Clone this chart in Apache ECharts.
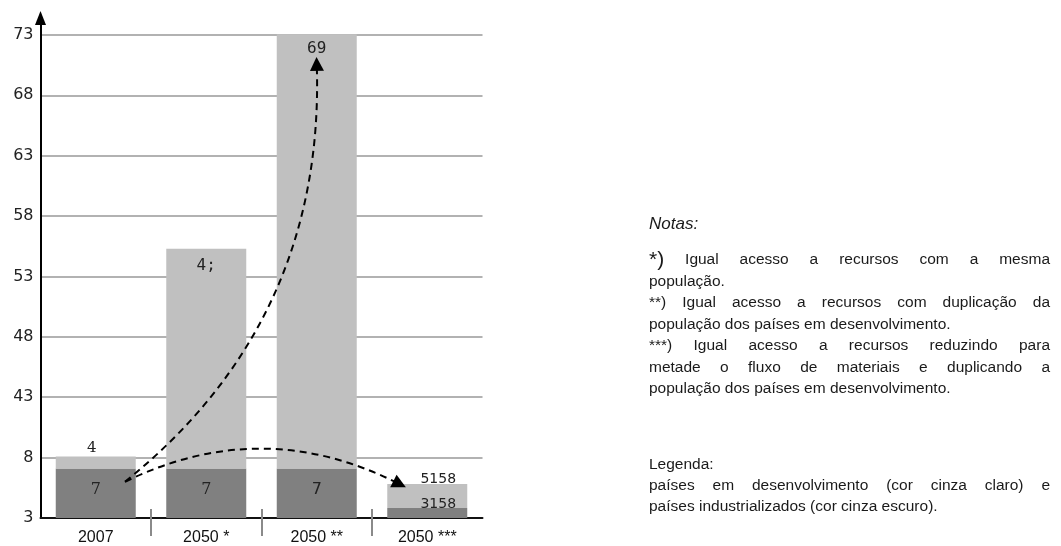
<!DOCTYPE html>
<html>
<head>
<meta charset="utf-8">
<script src="https://cdn.jsdelivr.net/npm/echarts@6/dist/echarts.min.js"></script>
<style>
html,body{margin:0;padding:0;background:#fff;}
#chart{width:1061px;height:546px;}
</style>
</head>
<body>
<div id="chart"></div>
<script>
// ---- data ----
const categories = ['2007', '2050 *', '2050 **', '2050 ***'];
const yTickLabels = ['3', '8', '43', '48', '53', '58', '63', '68', '73'];
const industrialized = [0.82, 0.82, 0.82, 0.165];   // dark grey
const developing = [0.2, 3.64, 7.19, 0.4];          // light grey (stacked on top)
const darkLabels = ['7', '7', '7', '3158'];
const lightLabels = ['4', '4;', '69', '5158'];
const arrowStart = [0.265, 0.6];
const arrowEnds = [[2.0, 7.52], [2.75, 0.56]];
const noteLines = [
  'Notas:',
  '*) Igual acesso a recursos com a mesma',
  'população.',
  '**) Igual acesso a recursos com duplicação da',
  'população dos países em desenvolvimento.',
  '***) Igual acesso a recursos reduzindo para',
  'metade o fluxo de materiais e duplicando a',
  'população dos países em desenvolvimento.',
  'Legenda:',
  'países em desenvolvimento (cor cinza claro) e',
  'países industrializados (cor cinza escuro).'
];

// ---- styles ----
const noteY = [224, 260, 282, 303, 325, 346, 368, 389, 465, 486, 507];
const noteJustify = [false, true, false, true, false, true, true, false, false, true, false];
const noteLeft = 649, noteRight = 1050;
const noteFont = 'Liberation Sans';
const noteSize = 15.5;

const darkLabelStyle = [
  {position: 'inside', offset: [0, -3], fontFamily: 'DejaVu Serif', fontSize: 16},
  {position: 'inside', offset: [0, -3], fontFamily: 'DejaVu Serif', fontSize: 16},
  {position: 'inside', offset: [0, -3], fontFamily: 'DejaVu Sans', fontSize: 16},
  {position: 'top', distance: 2, offset: [11, 5], fontFamily: 'DejaVu Sans', fontSize: 14}
];
const lightLabelStyle = [
  {position: 'top', distance: 1, offset: [-4, 0], fontFamily: 'DejaVu Serif', fontSize: 15},
  {position: 'insideTop', distance: 9, fontFamily: 'DejaVu Sans Mono', fontSize: 16},
  {position: 'insideTop', distance: 7, fontFamily: 'DejaVu Sans Mono', fontSize: 16},
  {position: 'top', distance: -2, offset: [11, 0], fontFamily: 'DejaVu Sans', fontSize: 14}
];

const chart = echarts.init(document.getElementById('chart'), null, {renderer: 'canvas'});

// measure helper for justified notes
const cv = document.createElement('canvas').getContext('2d');
function measure(text, size, style) {
  cv.font = (style || '') + ' ' + size + 'px "' + noteFont + '"';
  return cv.measureText(text).width;
}

const graphics = [];
noteLines.forEach((line, i) => {
  const y = noteY[i];
  const italic = i === 0;
  if (!noteJustify[i]) {
    graphics.push({
      type: 'text', x: noteLeft, y: y,
      style: {text: line, fontFamily: noteFont, fontSize: italic ? 17 : noteSize,
              fontStyle: italic ? 'italic' : 'normal', fill: '#1a1a1a',
              verticalAlign: 'middle', align: 'left'}
    });
    return;
  }
  const words = line.split(' ');
  const sizes = words.map((w, k) => (i === 1 && k === 0) ? 21 : noteSize);
  const widths = words.map((w, k) => measure(w, sizes[k]));
  const total = widths.reduce((a, b) => a + b, 0);
  const gap = (noteRight - noteLeft - total) / (words.length - 1);
  let x = noteLeft;
  words.forEach((w, k) => {
    graphics.push({
      type: 'text', x: x, y: y,
      style: {text: w, fontFamily: noteFont, fontSize: sizes[k], fill: '#1a1a1a',
              verticalAlign: 'middle', align: 'left'}
    });
    x += widths[k] + gap;
  });
});

const option = {
  animation: false,
  backgroundColor: '#fff',
  grid: {left: 40.5, right: 1061 - 482.5, top: 18, bottom: 27, containLabel: false},
  xAxis: [
    {
      type: 'category', data: categories, boundaryGap: true,
      axisLine: {show: true, lineStyle: {color: '#111', width: 2}},
      axisTick: {show: false},
      axisLabel: {margin: 12, fontFamily: 'Liberation Sans', fontSize: 16, color: '#111'},
      splitLine: {show: false}
    },
    {
      type: 'value', min: -0.5, max: 3.5, position: 'bottom', offset: -9,
      axisLine: {show: false, onZero: false},
      axisLabel: {show: false},
      splitLine: {show: false},
      axisTick: {show: true, customValues: [0.5, 1.5, 2.5], length: 27,
                 lineStyle: {color: '#8a8a8a', width: 2}}
    }
  ],
  yAxis: {
    type: 'value', min: 0, max: 8.28, interval: 1, position: 'left',
    axisLine: {show: true, onZero: false, lineStyle: {color: '#000', width: 2},
               symbol: ['none', 'triangle'], symbolSize: [11, 14]},
    axisTick: {show: false},
    axisLabel: {
      showMaxLabel: false, margin: 7,
      fontFamily: 'DejaVu Sans', fontSize: 16, color: '#222',
      formatter: v => (Number.isInteger(v) ? (yTickLabels[v] || '') : '')
    },
    splitLine: {show: true, showMaxLine: false, lineStyle: {color: '#999', width: 1.5}}
  },
  series: [
    {
      name: 'industrializados', type: 'bar', stack: 'total', barWidth: 80,
      xAxisIndex: 0,
      itemStyle: {color: '#808080'},
      data: industrialized.map((v, i) => ({
        value: v,
        label: Object.assign({show: true, color: '#222', formatter: darkLabels[i]}, darkLabelStyle[i])
      }))
    },
    {
      name: 'em desenvolvimento', type: 'bar', stack: 'total', barWidth: 80,
      xAxisIndex: 0,
      itemStyle: {color: '#c0c0c0'},
      data: developing.map((v, i) => ({
        value: v,
        label: Object.assign({show: true, color: '#222', formatter: lightLabels[i]}, lightLabelStyle[i])
      }))
    },
    {
      type: 'lines', coordinateSystem: 'cartesian2d', xAxisIndex: 1, yAxisIndex: 0,
      symbol: ['none', 'triangle'], symbolSize: [13, 14], z: 5,
      lineStyle: {color: '#000', width: 2, type: [7, 5], opacity: 1},
      data: [
        {coords: [arrowStart, arrowEnds[0]], lineStyle: {curveness: -0.25}},
        {coords: [arrowStart, arrowEnds[1]], lineStyle: {curveness: 0.25}}
      ]
    }
  ],
  graphic: graphics
};
chart.setOption(option);
</script>
</body>
</html>
